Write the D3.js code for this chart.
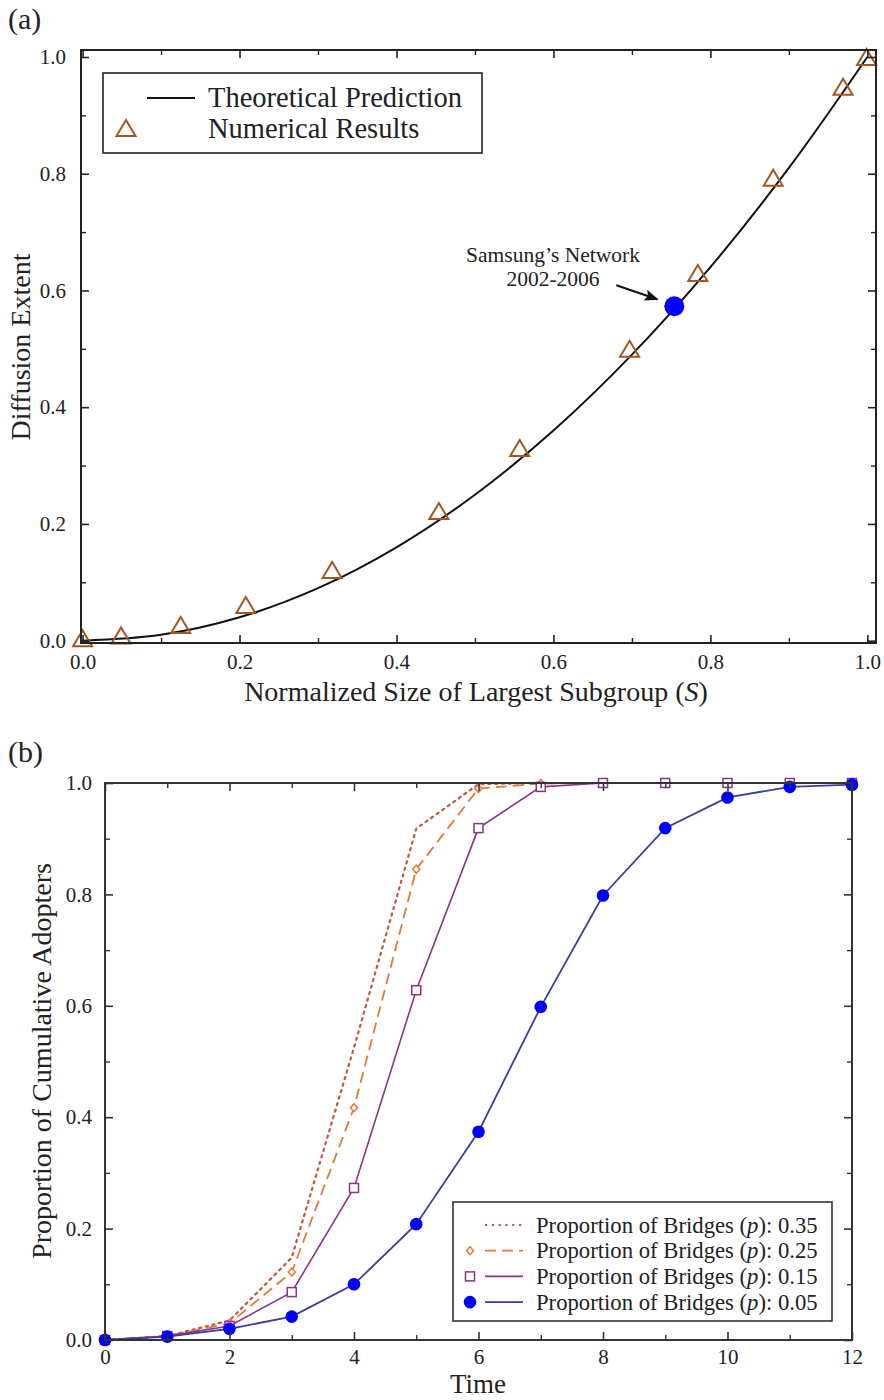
<!DOCTYPE html>
<html>
<head>
<meta charset="utf-8">
<script src="https://cdn.jsdelivr.net/npm/d3@7"></script>
<style>
  body { margin: 0; background: #fff; }
  svg text { font-family: "Liberation Serif", Tinos, "DejaVu Serif", "Noto Serif", serif; fill: #222; }
</style>
</head>
<body>
<svg id="chart" width="884" height="1400"></svg>
<script>
// ---- panel (a) data ----
const curveS = [0, 0.1, 0.2, 0.3, 0.4, 0.5, 0.6, 0.7, 0.8, 0.9, 1.0];
const curveExtent = [0, 0.01, 0.04, 0.09, 0.16, 0.25, 0.36, 0.49, 0.64, 0.81, 1.0];
const numS = [0.0, 0.049, 0.125, 0.208, 0.318, 0.454, 0.557, 0.697, 0.784, 0.880, 0.969, 0.999];
const numExtent = [0.004, 0.009, 0.027, 0.061, 0.121, 0.222, 0.330, 0.500, 0.630, 0.793, 0.949, 1.0];
const samsungS = 0.754, samsungExtent = 0.573;
const ticksA = [0, 0.2, 0.4, 0.6, 0.8, 1.0];
const minorA = [0.1, 0.3, 0.5, 0.7, 0.9];

// ---- panel (b) data ----
const timeSteps = [0, 1, 2, 3, 4, 5, 6, 7, 8, 9, 10, 11, 12];
const bridgeLabels = ["0.35", "0.25", "0.15", "0.05"];
const adopters035 = [0, 0.007, 0.035, 0.148, 0.525, 0.918, 0.998, 1, 1, 1, 1, 1, 1];
const adopters025 = [0, 0.007, 0.030, 0.122, 0.417, 0.845, 0.990, 0.999, 1, 1, 1, 1, 1];
const adopters015 = [0, 0.007, 0.025, 0.086, 0.273, 0.628, 0.919, 0.993, 1, 1, 1, 1, 1];
const adopters005 = [0, 0.006, 0.020, 0.042, 0.100, 0.208, 0.374, 0.598, 0.798, 0.919, 0.974, 0.993, 0.997];
const timeTicks = [0, 2, 4, 6, 8, 10, 12];
const timeMinor = [1, 3, 5, 7, 9, 11];
const ticksB = [0, 0.2, 0.4, 0.6, 0.8, 1.0];
const minorB = [0.1, 0.3, 0.5, 0.7, 0.9];

const svg = d3.select("#chart");
const serif = '"Liberation Serif", Tinos, "DejaVu Serif", "Noto Serif", serif';

// draws a boxed frame with inward ticks on all four sides
function frame(x, y, major, minor, majorX, minorX, fmtX, fmtY, padX, padY, stroke) {
  const [x0, x1] = x.range(), [y0, y1] = y.range();
  const g = svg.append("g");
  const ax = [
    [d3.axisBottom(x), `translate(0,${y0})`, majorX, minorX, fmtX, padX],
    [d3.axisTop(x), `translate(0,${y1})`, majorX, minorX, null, 0],
    [d3.axisLeft(y), `translate(${x0},0)`, major, minor, fmtY, padY],
    [d3.axisRight(y), `translate(${x1},0)`, major, minor, null, 0]
  ];
  ax.forEach(([a, tr, maj, mn, fmt, pad]) => {
    const ga = g.append("g").attr("transform", tr)
      .call(a.tickValues(maj).tickSize(-8).tickPadding(pad).tickFormat(fmt ? fmt : ""));
    ga.select(".domain").remove();
    ga.selectAll("line").attr("stroke", stroke).attr("stroke-width", 1.6);
    ga.selectAll("text").attr("font-family", serif).attr("font-size", 21).attr("fill", "#333");
    const gm = g.append("g").attr("transform", tr)
      .call(a.tickValues(mn).tickSize(-5).tickFormat(""));
    gm.select(".domain").remove();
    gm.selectAll("line").attr("stroke", stroke).attr("stroke-width", 1.4);
  });
  g.append("rect")
    .attr("x", x0).attr("y", y1)
    .attr("width", x1 - x0).attr("height", y0 - y1)
    .attr("fill", "none").attr("stroke", stroke).attr("stroke-width", 2);
  return g;
}

function triangle(cx, cy, w, h) {
  const p = d3.path();
  p.moveTo(cx, cy - h / 2);
  p.lineTo(cx + w / 2, cy + h / 2);
  p.lineTo(cx - w / 2, cy + h / 2);
  p.closePath();
  return p.toString();
}

// ================= panel (a) =================
const xA = d3.scaleLinear().domain([-0.002, 1.011]).range([81, 876]);
const yA = d3.scaleLinear().domain([-0.004, 1.012]).range([643, 50]);
const brown = "#a5561f";

svg.append("text").attr("x", 8).attr("y", 29).attr("font-size", 30).text("(a)");

const line = d3.line().x(d => xA(d[0])).y(d => yA(d[1])).curve(d3.curveCatmullRom);
svg.append("path")
  .datum(curveS.map((s, i) => [s, curveExtent[i]]))
  .attr("d", line)
  .attr("fill", "none").attr("stroke", "#111").attr("stroke-width", 2);

svg.append("g").selectAll("path")
  .data(numS.map((s, i) => [s, numExtent[i]]))
  .join("path")
  .attr("d", d => triangle(xA(d[0]), yA(d[1]), 19, 16))
  .attr("fill", "none").attr("stroke", brown).attr("stroke-width", 2);

svg.append("circle")
  .attr("cx", xA(samsungS)).attr("cy", yA(samsungExtent)).attr("r", 10)
  .attr("fill", "#0000ff");

// annotation
svg.append("text").attr("x", 553).attr("y", 262).attr("text-anchor", "middle")
  .attr("font-size", 21.5).attr("fill", "#333").text("Samsung\u2019s Network");
svg.append("text").attr("x", 553).attr("y", 286).attr("text-anchor", "middle")
  .attr("font-size", 21.5).attr("fill", "#333").text("2002-2006");
svg.append("defs").append("marker")
  .attr("id", "arrow").attr("viewBox", "0 0 10 10").attr("refX", 9).attr("refY", 5)
  .attr("markerWidth", 7).attr("markerHeight", 7).attr("orient", "auto")
  .append("path").attr("d", "M0,1L10,5L0,9L2,5Z").attr("fill", "#111");
svg.append("line")
  .attr("x1", xA(samsungS) - 58).attr("y1", yA(samsungExtent) - 21)
  .attr("x2", xA(samsungS) - 17).attr("y2", yA(samsungExtent) - 7)
  .attr("stroke", "#111").attr("stroke-width", 2).attr("marker-end", "url(#arrow)");

frame(xA, yA, ticksA, minorA, ticksA, minorA, d3.format(".1f"), d3.format(".1f"), 11, 15, "#222");

// legend (a)
const legA = svg.append("g");
legA.append("rect").attr("x", 103).attr("y", 73).attr("width", 379).attr("height", 80)
  .attr("fill", "#fff").attr("stroke", "#222").attr("stroke-width", 1.6);
legA.append("line").attr("x1", 147).attr("x2", 195).attr("y1", 98).attr("y2", 98)
  .attr("stroke", "#111").attr("stroke-width", 2);
legA.append("path").attr("d", triangle(126, 128, 19, 16))
  .attr("fill", "none").attr("stroke", brown).attr("stroke-width", 2);
legA.append("text").attr("x", 208).attr("y", 107).attr("font-size", 28.5).text("Theoretical Prediction");
legA.append("text").attr("x", 208).attr("y", 138).attr("font-size", 28.5).text("Numerical Results");

// axis titles (a)
const titleX = svg.append("text").attr("x", 476).attr("y", 701)
  .attr("text-anchor", "middle").attr("font-size", 28);
titleX.append("tspan").text("Normalized Size of Largest Subgroup (");
titleX.append("tspan").attr("font-style", "italic").text("S");
titleX.append("tspan").text(")");
svg.append("text").attr("transform", "translate(30,347) rotate(-90)")
  .attr("text-anchor", "middle").attr("font-size", 28).text("Diffusion Extent");

// ================= panel (b) =================
const xB = d3.scaleLinear().domain([0, 12]).range([105, 852]);
const yB = d3.scaleLinear().domain([0, 1]).range([1340, 783]);

svg.append("text").attr("x", 8).attr("y", 762).attr("font-size", 30).text("(b)");

const series = [
  { label: bridgeLabels[0], values: adopters035, color: "#c2583c", dash: "2.2,4.6", marker: null, width: 2.2 },
  { label: bridgeLabels[1], values: adopters025, color: "#e4793a", dash: "11,6", marker: "diamond", width: 1.8 },
  { label: bridgeLabels[2], values: adopters015, color: "#8a348c", dash: null, marker: "square", width: 1.6 },
  { label: bridgeLabels[3], values: adopters005, color: "#3b3d9e", dash: null, marker: "circle", width: 1.8 }
];

const lineB = d3.line().x((d, i) => xB(timeSteps[i])).y(d => yB(d));

function drawMarker(g, type, cx, cy, color) {
  if (type === "circle") {
    g.append("circle").attr("cx", cx).attr("cy", cy).attr("r", 6.3).attr("fill", "#0000ff");
  } else if (type === "square") {
    g.append("rect").attr("x", cx - 4.5).attr("y", cy - 4.5).attr("width", 9).attr("height", 9)
      .attr("fill", "#fff").attr("stroke", color).attr("stroke-width", 1.5);
  } else if (type === "diamond") {
    g.append("path").attr("d", `M${cx},${cy - 4}L${cx + 3.6},${cy}L${cx},${cy + 4}L${cx - 3.6},${cy}Z`)
      .attr("fill", "#fff").attr("stroke", color).attr("stroke-width", 1.5);
  }
}

series.forEach(s => {
  svg.append("path").datum(s.values).attr("d", lineB)
    .attr("fill", "none").attr("stroke", s.color).attr("stroke-width", s.width)
    .attr("stroke-dasharray", s.dash).attr("stroke-linecap", s.dash && s.dash.startsWith("2") ? "round" : "butt");
  if (s.marker) {
    const g = svg.append("g");
    s.values.forEach((v, i) => drawMarker(g, s.marker, xB(timeSteps[i]), yB(v), s.color));
  }
});

frame(xB, yB, ticksB, minorB, timeTicks, timeMinor, d3.format("d"), d3.format(".1f"), 9, 13, "#333");

// legend (b)
const legB = svg.append("g");
legB.append("rect").attr("x", 453).attr("y", 1202).attr("width", 379).attr("height", 119)
  .attr("fill", "#fff").attr("stroke", "#333").attr("stroke-width", 1.6);
series.forEach((s, i) => {
  const cy = 1225 + i * 25.7;
  legB.append("line").attr("x1", 485).attr("x2", 523).attr("y1", cy).attr("y2", cy)
    .attr("stroke", s.color).attr("stroke-width", s.width).attr("stroke-dasharray", s.dash);
  if (s.marker) drawMarker(legB, s.marker, 470, cy, s.color);
  const t = legB.append("text").attr("x", 536).attr("y", cy + 7.5).attr("font-size", 22.7);
  t.append("tspan").text("Proportion of Bridges (");
  t.append("tspan").attr("font-style", "italic").text("p");
  t.append("tspan").text("): " + s.label);
});

// axis titles (b)
svg.append("text").attr("x", 478).attr("y", 1393).attr("text-anchor", "middle")
  .attr("font-size", 27).text("Time");
svg.append("text").attr("transform", "translate(51,1061) rotate(-90)")
  .attr("text-anchor", "middle").attr("font-size", 28).text("Proportion of Cumulative Adopters");
</script>
</body>
</html>
